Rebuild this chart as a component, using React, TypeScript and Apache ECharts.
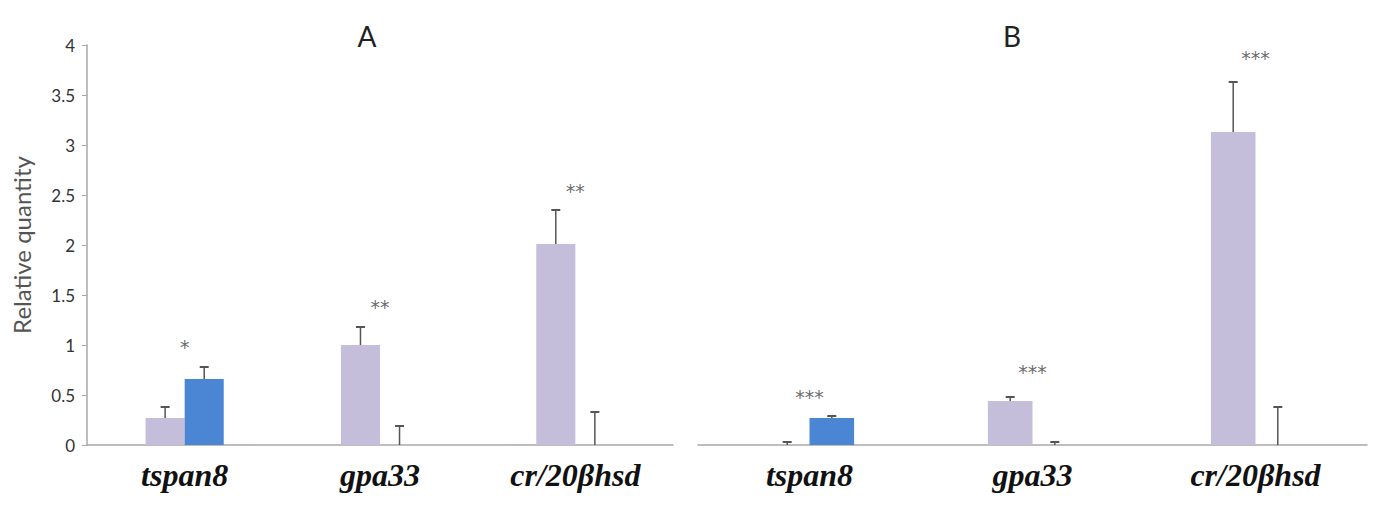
import React, { useEffect, useRef } from "react";
import * as echarts from "echarts";

const categories = ["tspan8", "gpa33", "cr/20βhsd"];
const yTicks = { min: 0, max: 4, interval: 0.5 };

// Panel A
const aLavender = [0.27, 1.0, 2.01];
const aLavenderErr = [0.11, 0.18, 0.34];
const aBlue = [0.66, 0, 0];
const aBlueErr = [0.12, 0.19, 0.33];
const aStars = ["*", "**", "**"];
const aStarY = [1.03, 1.43, 2.59];

// Panel B
const bLavender = [0, 0.44, 3.13];
const bLavenderErr = [0.03, 0.04, 0.5];
const bBlue = [0.27, 0, 0];
const bBlueErr = [0.02, 0.03, 0.38];
const bStars = ["***", "***", "***"];
const bStarY = [0.53, 0.78, 3.92];

const LAVENDER = "#c5bedb";
const BLUE = "#4a86d4";
const ERR = "#555555";

function errSeries(values: number[], errs: number[], gridIdx: number, side: number) {
  return {
    type: "custom",
    xAxisIndex: gridIdx,
    yAxisIndex: gridIdx,
    silent: true,
    z: 5,
    data: values.map((v, i) => [i, v, v + errs[i]]),
    encode: { x: 0, y: [1, 2] },
    renderItem: (params: any, api: any) => {
      const ci = api.value(0);
      const lo = api.coord([ci, api.value(1)]);
      const hi = api.coord([ci, api.value(2)]);
      const band = api.size([1, 0])[0];
      const x = lo[0] + side * band * 0.1;
      const cap = 4.5;
      return {
        type: "group",
        children: [
          { type: "line", shape: { x1: x, y1: lo[1], x2: x, y2: hi[1] }, style: { stroke: ERR, lineWidth: 1.5 } },
          { type: "line", shape: { x1: x - cap, y1: hi[1], x2: x + cap, y2: hi[1] }, style: { stroke: ERR, lineWidth: 2 } },
        ],
      };
    },
  };
}

function starSeries(labels: string[], ys: number[], gridIdx: number) {
  return {
    type: "scatter",
    xAxisIndex: gridIdx,
    yAxisIndex: gridIdx,
    symbolSize: 1,
    itemStyle: { color: "rgba(0,0,0,0)" },
    silent: true,
    data: ys.map((y, i) => [i, y]),
    label: {
      show: true,
      position: "inside",
      offset: [0, 5],
      formatter: (p: any) => labels[p.dataIndex],
      fontFamily: "DejaVu Sans",
      fontSize: 19,
      color: "#444",
    },
  };
}

function barSeries(values: number[], color: string, gridIdx: number) {
  return {
    type: "bar",
    xAxisIndex: gridIdx,
    yAxisIndex: gridIdx,
    data: values,
    barGap: "0%",
    barCategoryGap: "60%",
    itemStyle: { color },
  };
}

const xAxisBase = {
  type: "category",
  data: categories,
  axisLine: { lineStyle: { color: "#a8a8a8", width: 1.5 } },
  axisTick: { show: false },
  axisLabel: {
    fontFamily: "Liberation Serif",
    fontStyle: "italic",
    fontWeight: "bold",
    fontSize: 32,
    color: "#111",
    margin: 14,
  },
};

export default function App() {
  const ref = useRef<HTMLDivElement>(null);
  useEffect(() => {
    if (!ref.current) return;
    const chart = echarts.init(ref.current, null, { renderer: "svg" });
    chart.setOption({
      animation: false,
      backgroundColor: "#ffffff",
      grid: [
        { left: 87, top: 45, width: 586, height: 400 },
        { left: 698, top: 45, width: 669, height: 400 },
      ],
      xAxis: [
        { ...xAxisBase, gridIndex: 0 },
        { ...xAxisBase, gridIndex: 1 },
      ],
      yAxis: [
        {
          type: "value",
          gridIndex: 0,
          min: yTicks.min,
          max: yTicks.max,
          interval: yTicks.interval,
          name: "Relative quantity",
          nameLocation: "middle",
          nameGap: 54,
          nameTextStyle: { fontFamily: "Lato", fontSize: 24, color: "#555" },
          axisLine: { show: true, lineStyle: { color: "#a8a8a8", width: 1.5 } },
          axisTick: { show: true, length: 5, lineStyle: { color: "#a8a8a8" } },
          axisLabel: { fontFamily: "Lato", fontSize: 17, color: "#333", margin: 12 },
          splitLine: { show: false },
        },
        {
          type: "value",
          gridIndex: 1,
          min: yTicks.min,
          max: yTicks.max,
          interval: yTicks.interval,
          axisLine: { show: false },
          axisTick: { show: false },
          axisLabel: { show: false },
          splitLine: { show: false },
        },
      ],
      graphic: [
        { type: "text", x: 367, y: 36, style: { text: "A", fill: "#222", font: "28px Lato", textAlign: "center", textVerticalAlign: "middle" } },
        { type: "text", x: 1012, y: 36, style: { text: "B", fill: "#222", font: "28px Lato", textAlign: "center", textVerticalAlign: "middle" } },
      ],
      series: [
        barSeries(aLavender, LAVENDER, 0),
        barSeries(aBlue, BLUE, 0),
        errSeries(aLavender, aLavenderErr, 0, -1),
        errSeries(aBlue, aBlueErr, 0, 1),
        starSeries(aStars, aStarY, 0),
        barSeries(bLavender, LAVENDER, 1),
        barSeries(bBlue, BLUE, 1),
        errSeries(bLavender, bLavenderErr, 1, -1),
        errSeries(bBlue, bBlueErr, 1, 1),
        starSeries(bStars, bStarY, 1),
      ],
    });
    return () => chart.dispose();
  }, []);
  return (
    <div
      ref={ref}
      style={{ position: "absolute", left: 0, top: 0, width: 1380, height: 509 }}
    />
  );
}
